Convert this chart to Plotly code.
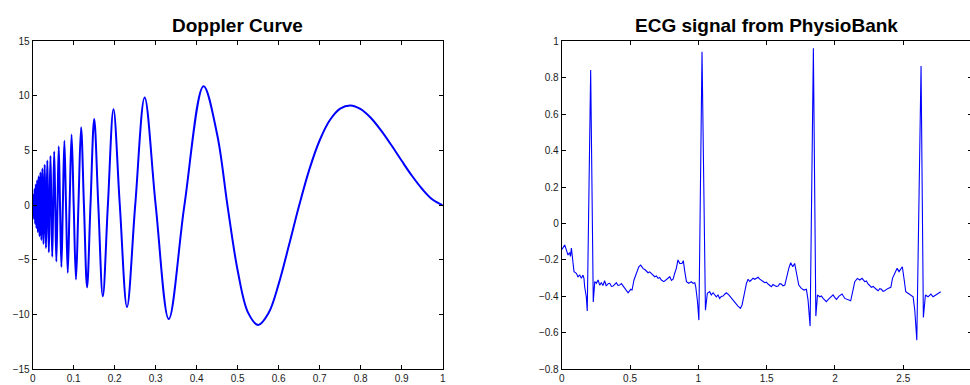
import plotly.graph_objects as go

# ---------------- Data ----------------
# Doppler curve: zero crossings, local extrema and readings along the large lobes
doppler_x = [
    0.0, 0.0006, 0.00122, 0.00185, 0.0025, 0.00317, 0.00385, 0.00455, 0.00526, 0.006,
    0.00676, 0.00753, 0.00833, 0.00916, 0.01, 0.01087, 0.01177, 0.01269, 0.01364, 0.01462,
    0.01563, 0.01667, 0.01774, 0.01885, 0.02, 0.02119, 0.02241, 0.02368, 0.025, 0.02636,
    0.02778, 0.02925, 0.03077, 0.03235, 0.034, 0.03571, 0.0375, 0.03936, 0.0413, 0.04333,
    0.04546, 0.04767, 0.05, 0.05244, 0.055, 0.05769, 0.06053, 0.06351, 0.06667, 0.07,
    0.07353, 0.07727, 0.08125, 0.08548, 0.09, 0.09483, 0.1, 0.10556, 0.11154, 0.118,
    0.125, 0.13261, 0.14091, 0.15, 0.16, 0.17105, 0.18333, 0.19706, 0.2125, 0.23,
    0.25, 0.27308, 0.3, 0.33182, 0.37, 0.41667, 0.45, 0.475, 0.5, 0.525,
    0.55, 0.575, 0.6, 0.625, 0.65, 0.675, 0.7, 0.725, 0.75, 0.775,
    0.8, 0.825, 0.85, 0.875, 0.9, 0.925, 0.95, 0.975, 1.0,
]
doppler_y = [
    0.0, -0.54, 0.0, 0.95, 0.0, -1.24, 0.0, 1.49, 0.0, -1.71,
    0.0, 1.91, 0.0, -2.10, 0.0, 2.29, 0.0, -2.47, 0.0, 2.65,
    0.0, -2.83, 0.0, 3.01, 0.0, -3.18, 0.0, 3.36, 0.0, -3.54,
    0.0, 3.72, 0.0, -3.91, 0.0, 4.10, 0.0, -4.30, 0.0, 4.50,
    0.0, -4.71, 0.0, 4.93, 0.0, -5.15, 0.0, 5.39, 0.0, -5.64,
    0.0, 5.90, 0.0, -6.18, 0.0, 6.47, 0.0, -6.79, 0.0, 7.13,
    0.0, -7.50, 0.0, 7.89, 0.0, -8.32, 0.0, 8.79, 0.0, -9.30,
    0.0, 9.85, 0.0, -10.41, 0.0, 10.90, 6.46, 0.0, -5.98, -9.79,
    -10.95, -9.88, -7.19, -3.66, 0.0, 3.31, 5.95, 7.80, 8.84, 9.13,
    8.80, 7.99, 6.83, 5.49, 4.07, 2.70, 1.49, 0.53, 0.0,
]

# ECG trace (time in s, amplitude in mV)
ecg_x = [
    0.002, 0.022, 0.034, 0.046, 0.058, 0.064, 0.071, 0.079, 0.090, 0.107,
    0.119, 0.132, 0.144, 0.156, 0.163, 0.168, 0.180, 0.187, 0.212, 0.231,
    0.242, 0.254, 0.266, 0.278, 0.290, 0.302, 0.314, 0.326, 0.340, 0.352,
    0.364, 0.376, 0.388, 0.400, 0.412, 0.424, 0.437, 0.449, 0.461, 0.473,
    0.486, 0.505, 0.515, 0.529, 0.546, 0.564, 0.578, 0.595, 0.612, 0.622,
    0.632, 0.644, 0.656, 0.668, 0.681, 0.693, 0.705, 0.717, 0.729, 0.748,
    0.766, 0.778, 0.791, 0.803, 0.815, 0.827, 0.839, 0.851, 0.864, 0.880,
    0.890, 0.901, 0.913, 0.930, 0.949, 0.962, 0.974, 0.981, 0.994, 1.004,
    1.027, 1.052, 1.066, 1.083, 1.095, 1.108, 1.120, 1.132, 1.144, 1.156,
    1.168, 1.181, 1.193, 1.205, 1.223, 1.242, 1.266, 1.290, 1.308, 1.320,
    1.335, 1.352, 1.364, 1.376, 1.388, 1.400, 1.413, 1.425, 1.437, 1.450,
    1.462, 1.474, 1.486, 1.498, 1.510, 1.522, 1.534, 1.546, 1.559, 1.571,
    1.584, 1.596, 1.608, 1.620, 1.633, 1.645, 1.662, 1.676, 1.691, 1.705,
    1.721, 1.735, 1.754, 1.774, 1.791, 1.803, 1.818, 1.842, 1.860, 1.872,
    1.889, 1.901, 1.913, 1.925, 1.937, 1.950, 1.962, 1.974, 1.986, 1.998,
    2.011, 2.030, 2.052, 2.072, 2.095, 2.115, 2.132, 2.145, 2.164, 2.182,
    2.198, 2.218, 2.230, 2.242, 2.254, 2.266, 2.279, 2.292, 2.304, 2.316,
    2.328, 2.340, 2.352, 2.364, 2.376, 2.388, 2.409, 2.421, 2.438, 2.455,
    2.469, 2.482, 2.493, 2.506, 2.518, 2.535, 2.555, 2.572, 2.584, 2.599,
    2.630, 2.647, 2.662, 2.681, 2.702, 2.718, 2.738, 2.755, 2.774,
]
ecg_y = [
    -0.142, -0.118, -0.145, -0.173, -0.160, -0.180, -0.135, -0.200, -0.264, -0.273,
    -0.292, -0.283, -0.301, -0.283, -0.301, -0.347, -0.402, -0.480, 0.842, -0.430,
    -0.319, -0.328, -0.310, -0.338, -0.325, -0.340, -0.314, -0.343, -0.330, -0.328,
    -0.345, -0.343, -0.332, -0.325, -0.340, -0.338, -0.330, -0.343, -0.350, -0.365,
    -0.380, -0.361, -0.365, -0.310, -0.273, -0.237, -0.228, -0.246, -0.255, -0.262,
    -0.270, -0.265, -0.273, -0.285, -0.292, -0.288, -0.301, -0.296, -0.310, -0.319,
    -0.306, -0.300, -0.292, -0.312, -0.306, -0.273, -0.246, -0.200, -0.219, -0.219,
    -0.204, -0.264, -0.319, -0.328, -0.319, -0.328, -0.325, -0.347, -0.429, -0.530,
    0.943, -0.475, -0.383, -0.374, -0.392, -0.380, -0.395, -0.402, -0.392, -0.411,
    -0.400, -0.398, -0.388, -0.380, -0.392, -0.411, -0.429, -0.453, -0.466, -0.447,
    -0.392, -0.328, -0.306, -0.318, -0.310, -0.300, -0.306, -0.298, -0.295, -0.305,
    -0.314, -0.318, -0.325, -0.322, -0.332, -0.340, -0.347, -0.335, -0.338, -0.345,
    -0.343, -0.330, -0.332, -0.342, -0.338, -0.292, -0.246, -0.215, -0.237, -0.219,
    -0.273, -0.338, -0.356, -0.365, -0.361, -0.420, -0.563, 0.962, -0.508, -0.392,
    -0.402, -0.398, -0.411, -0.420, -0.429, -0.418, -0.411, -0.400, -0.392, -0.405,
    -0.416, -0.398, -0.387, -0.411, -0.420, -0.424, -0.365, -0.319, -0.301, -0.310,
    -0.301, -0.319, -0.315, -0.332, -0.340, -0.350, -0.345, -0.356, -0.362, -0.369,
    -0.358, -0.361, -0.372, -0.369, -0.362, -0.356, -0.350, -0.301, -0.273, -0.246,
    -0.264, -0.251, -0.237, -0.306, -0.374, -0.383, -0.392, -0.402, -0.475, -0.640,
    0.864, -0.515, -0.392, -0.402, -0.387, -0.402, -0.392, -0.383, -0.374,
]

# Tick labels
dop_xticks = [0, 0.1, 0.2, 0.3, 0.4, 0.5, 0.6, 0.7, 0.8, 0.9, 1]
dop_xlabels = ["0", "0.1", "0.2", "0.3", "0.4", "0.5", "0.6", "0.7", "0.8", "0.9", "1"]
dop_yticks = [-15, -10, -5, 0, 5, 10, 15]
dop_ylabels = ["\u221215", "\u221210", "\u22125", "0", "5", "10", "15"]
ecg_xticks = [0, 0.5, 1, 1.5, 2, 2.5, 3]
ecg_xlabels = ["0", "0.5", "1", "1.5", "2", "2.5", "3"]
ecg_yticks = [-0.8, -0.6, -0.4, -0.2, 0, 0.2, 0.4, 0.6, 0.8, 1]
ecg_ylabels = ["\u22120.8", "\u22120.6", "\u22120.4", "\u22120.2", "0", "0.2", "0.4", "0.6", "0.8", "1"]

titles = ["Doppler Curve", "ECG signal from PhysioBank"]

# ---------------- Figure ----------------
W, H = 974, 385
FONT = "Liberation Sans, Arial, Helvetica, sans-serif"

fig = go.Figure()
fig.add_trace(go.Scatter(
    x=doppler_x, y=doppler_y, mode="lines", xaxis="x", yaxis="y",
    line=dict(color="#0000ff", width=2, shape="spline", smoothing=1.0),
    showlegend=False, hoverinfo="skip",
))
fig.add_trace(go.Scatter(
    x=ecg_x, y=ecg_y, mode="lines", xaxis="x2", yaxis="y2",
    line=dict(color="#0000ff", width=1.1),
    showlegend=False, hoverinfo="skip",
))

axis_common = dict(
    showline=True, linecolor="#000000", linewidth=1, mirror="ticks",
    ticks="inside", ticklen=4, tickwidth=1, tickcolor="#000000",
    showgrid=False, zeroline=False, automargin=False,
    tickfont=dict(family=FONT, size=10, color="#1a1a1a"),
    tickmode="array",
)

ydom = [(H - 369.3) / H, (H - 41.3) / H]
fig.update_layout(
    width=W, height=H,
    margin=dict(l=0, r=0, t=0, b=0, pad=0),
    paper_bgcolor="white", plot_bgcolor="white",
    xaxis=dict(domain=[32.7 / W, 442.7 / W], range=[0, 1],
               tickvals=dop_xticks, ticktext=dop_xlabels, anchor="y", **axis_common),
    yaxis=dict(domain=ydom, range=[-15, 15],
               tickvals=dop_yticks, ticktext=dop_ylabels, anchor="x", **axis_common),
    xaxis2=dict(domain=[561.7 / W, 971.6 / W], range=[0, 3],
                tickvals=ecg_xticks, ticktext=ecg_xlabels, anchor="y2", **axis_common),
    yaxis2=dict(domain=ydom, range=[-0.8, 1],
                tickvals=ecg_yticks, ticktext=ecg_ylabels, anchor="x2", **axis_common),
    annotations=[
        dict(text="<b>%s</b>" % titles[0], x=237.7 / W, y=(H - 25.5) / H,
             xref="paper", yref="paper", xanchor="center", yanchor="middle",
             showarrow=False, font=dict(family=FONT, size=19, color="#000000")),
        dict(text="<b>%s</b>" % titles[1], x=766.6 / W, y=(H - 25.5) / H,
             xref="paper", yref="paper", xanchor="center", yanchor="middle",
             showarrow=False, font=dict(family=FONT, size=19, color="#000000")),
    ],
)

fig.write_html(
    "out.html",
    post_script="document.documentElement.style.overflow='hidden';document.body.style.overflow='hidden';",
)
